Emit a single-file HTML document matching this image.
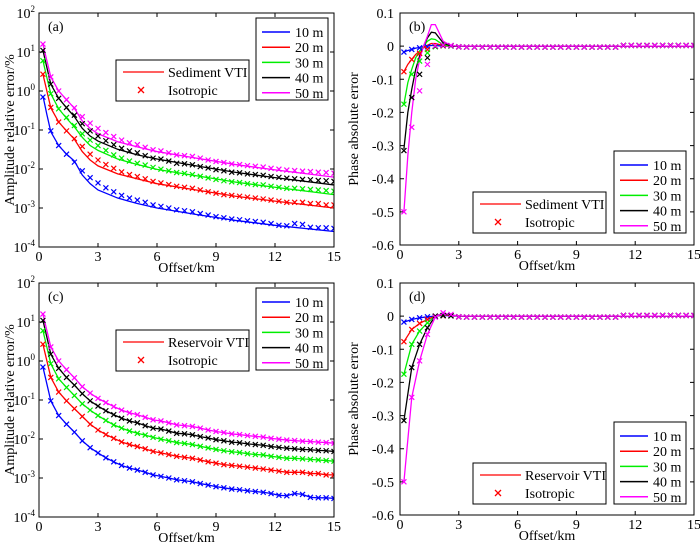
<!DOCTYPE html>
<html><head><meta charset="utf-8"><style>
html,body{margin:0;padding:0;background:#fff;}
svg{display:block;font-family:"Liberation Serif",serif;}
</style></head><body>
<svg id="fig" width="700" height="545" viewBox="0 0 700 545" xmlns="http://www.w3.org/2000/svg"></svg>
<script>
const NS="http://www.w3.org/2000/svg";
const seriesNames=["10 m","20 m","30 m","40 m","50 m"];
const colors=["#0000ff","#ff0000","#00ee00","#000000","#ff00ff"];
const xTicks=[0,3,6,9,12,15];
const logTickExps=[2,1,0,-1,-2,-3,-4];
const phaseTicks=[0.1,0,-0.1,-0.2,-0.3,-0.4,-0.5,-0.6];
const phaseTickLabels=["0.1","0","-0.1","-0.2","-0.3","-0.4","-0.5","-0.6"];
// marker offsets (km)
const markerX=[0.2,0.6,1.0,1.4,1.8,2.2,2.6,3.0,3.4,3.8,4.2,4.6,5.0,5.4,5.8,6.2,6.6,7.0,7.4,7.8,8.2,8.6,9.0,9.4,9.8,10.2,10.6,11.0,11.4,11.8,12.2,12.6,13.0,13.4,13.8,14.2,14.6,15.0];
// isotropic amplitude errors (%)
const amp10=[0.7,0.095,0.04,0.024,0.015,0.009,0.006,0.0044,0.0033,0.0026,0.0021,0.0018,0.0016,0.0014,0.0012,0.0011,0.001,0.0009,0.00085,0.0008,0.00072,0.00066,0.0006,0.00056,0.00052,0.0005,0.00047,0.00045,0.00043,0.0004,0.00036,0.00035,0.0004,0.00038,0.00032,0.00031,0.00031,0.0003];
const amp20=[2.7,0.38,0.16,0.095,0.06,0.038,0.024,0.017,0.013,0.0104,0.0084,0.0072,0.0064,0.0056,0.0048,0.0044,0.004,0.0036,0.0034,0.0032,0.0029,0.0026,0.0024,0.0022,0.0021,0.002,0.0019,0.0018,0.0017,0.0016,0.0015,0.0014,0.0014,0.0014,0.0013,0.0013,0.0012,0.0012];
const amp30=[6,0.85,0.35,0.21,0.13,0.08,0.055,0.04,0.03,0.023,0.019,0.016,0.014,0.0126,0.011,0.0099,0.009,0.0081,0.0077,0.0072,0.0065,0.0059,0.0054,0.005,0.0047,0.0045,0.0042,0.004,0.0039,0.0036,0.0034,0.0032,0.0032,0.0031,0.003,0.0029,0.0028,0.0027];
const amp40=[11,1.5,0.65,0.38,0.24,0.145,0.095,0.07,0.053,0.042,0.034,0.029,0.026,0.022,0.019,0.018,0.016,0.014,0.0136,0.0128,0.0115,0.0106,0.0096,0.009,0.0083,0.008,0.0075,0.0072,0.0069,0.0064,0.0061,0.0058,0.0056,0.0054,0.0053,0.0051,0.005,0.0048];
const amp50=[16,2.3,1.0,0.6,0.37,0.22,0.15,0.11,0.086,0.068,0.055,0.047,0.042,0.036,0.031,0.029,0.026,0.023,0.022,0.021,0.019,0.017,0.0156,0.0146,0.0135,0.013,0.0122,0.0117,0.0112,0.0104,0.0099,0.0094,0.0091,0.0088,0.0086,0.0083,0.0081,0.0078];
// sediment VTI amplitude lines
const vtiX=[0.2,0.4,0.6,1,1.4,1.8,2.2,2.6,3,4,5,6,8,10,12,15];
const sed10=[0.75,0.25,0.09,0.04,0.024,0.016,0.007,0.0042,0.0029,0.0018,0.0013,0.001,0.00068,0.00048,0.00036,0.00025];
const sed20=[2.7,1.0,0.37,0.16,0.095,0.058,0.028,0.017,0.012,0.0075,0.0056,0.0042,0.0029,0.002,0.0015,0.001];
const sed30=[6,2.2,0.85,0.35,0.2,0.12,0.065,0.04,0.03,0.018,0.013,0.0098,0.0067,0.0046,0.0034,0.0022];
const sed40=[11,4,1.5,0.65,0.37,0.22,0.11,0.07,0.052,0.032,0.023,0.018,0.012,0.0082,0.006,0.0039];
const sed50=[16,6,2.3,1.0,0.6,0.36,0.17,0.11,0.08,0.05,0.037,0.028,0.019,0.013,0.0095,0.0062];
// isotropic phase errors: first 7 offsets, then shared tail
const ph10Head=[-0.018,-0.01,-0.005,-0.002,0,0.001,0.001];
const ph20Head=[-0.077,-0.04,-0.022,-0.01,0,0.001,0.001];
const ph30Head=[-0.175,-0.085,-0.045,-0.02,-0.002,0.002,0.001];
const ph40Head=[-0.315,-0.155,-0.085,-0.035,0.0,0.002,0.001];
const ph50Head=[-0.5,-0.245,-0.135,-0.055,0.001,0.003,0.002];
const ph50HeadD=[-0.5,-0.245,-0.135,-0.055,-0.003,0.01,0.005];
const phTail=[-0.002,-0.003,-0.003,-0.003,-0.003,-0.003,-0.003,-0.003,-0.003,-0.003,-0.003,-0.003,-0.003,-0.003,-0.003,-0.003,-0.003,-0.003,-0.003,-0.003,-0.003,0.002,0.002,0.002,0.002,0.002,0.002,0.002,0.002,0.002,0.002];
// sediment VTI phase lines
const phLineX=[0.2,0.4,0.6,0.8,1,1.2,1.4,1.6,1.8,2,2.2,2.6,3,15];
const sph10=[-0.018,-0.013,-0.01,-0.006,-0.004,-0.001,0,0.002,0.002,0.001,0,0,0,0];
const sph20=[-0.077,-0.055,-0.04,-0.025,-0.015,-0.005,0.003,0.008,0.008,0.005,0.002,0,0,0];
const sph30=[-0.175,-0.11,-0.07,-0.035,-0.015,0,0.015,0.022,0.02,0.012,0.005,0,0,0];
const sph40=[-0.31,-0.2,-0.13,-0.07,-0.03,0,0.025,0.042,0.04,0.025,0.01,0,0,0];
const sph50=[-0.5,-0.33,-0.2,-0.1,-0.04,0,0.03,0.065,0.065,0.04,0.015,0.002,0,0];
// reservoir VTI phase lines
const rphX=[0.2,0.6,1,1.4,1.8,2.2,2.6,3,15];
const rph10=[-0.018,-0.01,-0.005,-0.002,0,0.002,0.001,0,0];
const rph20=[-0.077,-0.04,-0.022,-0.01,0,0.004,0.002,0,0];
const rph30=[-0.175,-0.085,-0.045,-0.02,0,0.006,0.003,0,0];
const rph40=[-0.315,-0.155,-0.085,-0.035,0,0.008,0.003,0,0];
const rph50=[-0.5,-0.245,-0.135,-0.055,-0.003,0.01,0.004,0,0];

const svg=document.getElementById('fig');
function mk(tag,attrs,parent){const e=document.createElementNS(NS,tag);for(const k in attrs)e.setAttribute(k,attrs[k]);(parent||svg).appendChild(e);return e;}
function txt(s,attrs,parent){const e=mk('text',attrs,parent);e.textContent=s;return e;}

function panel(cfg){
  const g=mk('g',{});
  
  
  const L=cfg.x0,R=cfg.x1,T=cfg.y0,B=cfg.y1;
  const sx=v=>L+(v-0)/15*(R-L);
  let sy;
  if(cfg.log){sy=v=>T+(2-Math.log10(v))/6*(B-T);}
  else{sy=v=>T+(0.1-v)/0.7*(B-T);}
  xTicks.forEach(t=>{
    const x=sx(t);
    const tk=mk('path',{d:`M${x},${B}v-4M${x},${T}v4`,stroke:'#000','stroke-width':1},g);
    
    
    const lb=txt(String(t),{x:x,y:B+14,'font-size':14,'text-anchor':'middle'},g);
    
    
  });
  if(cfg.log){
    logTickExps.forEach(e=>{
      const y=sy(Math.pow(10,e));
      const tk=mk('path',{d:`M${L},${y}h4M${R},${y}h-4`,stroke:'#000','stroke-width':1},g);
      
      
      const lb=txt('',{x:L-4,y:y+5,'font-size':14,'text-anchor':'end'},g);
      
      
      lb.textContent='10';
      const sp=mk('tspan',{dy:-6,'font-size':9},lb);sp.textContent=String(e);
    });
  } else {
    phaseTicks.forEach((t,i)=>{
      const y=sy(t);
      const tk=mk('path',{d:`M${L},${y}h4M${R},${y}h-4`,stroke:'#000','stroke-width':1},g);
      
      
      const lb=txt(phaseTickLabels[i],{x:L-6,y:y+5,'font-size':14,'text-anchor':'end'},g);
      
      
    });
  }
  const clipId='c'+cfg.name;
  const cp=mk('clipPath',{id:clipId},g);mk('rect',{x:L,y:T,width:R-L,height:B-T},cp);
  const dg=mk('g',{'clip-path':`url(#${clipId})`},g);
  cfg.lines.forEach((ys,i)=>{
    const p=mk('polyline',{points:ys.map((v,j)=>sx(cfg.lineX[j])+','+sy(v)).join(' '),fill:'none',stroke:colors[i],'stroke-width':1.3},dg);
    
    
  });
  cfg.marks.forEach((ys,i)=>{
    const mg=mk('g',{stroke:colors[i],'stroke-width':1.2},dg);
    
    
    ys.forEach((v,j)=>{
      const x=sx(markerX[j]),y=sy(v);
      mk('path',{d:`M${x-2.5},${y-2.5}l5,5M${x-2.5},${y+2.5}l5,-5`},mg);
    });
  });
  const fr=mk('rect',{x:L,y:T,width:R-L,height:B-T,fill:'none',stroke:'#000','stroke-width':1},g);
  
  
  const pl=txt(cfg.label,{x:L+9,y:T+18,'font-size':14},g);
  
  
  const xl=txt('Offset/km',{x:(L+R)/2,y:B+25,'font-size':14,'text-anchor':'middle'},g);
  
  
  const yx=cfg.log?14:L-42;
  const yl=txt(cfg.log?'Amplitude relative error/%':'Phase absolute error',{x:yx,y:(T+B)/2,'font-size':14,'text-anchor':'middle',transform:`rotate(-90 ${yx} ${(T+B)/2})`},g);
  
  
  const lx=cfg.leg1[0],ly=cfg.leg1[1];
  const lg=mk('g',{},g);
  
  
  mk('rect',{x:lx,y:ly,width:72,height:82,fill:'#fff',stroke:'#000','stroke-width':1},lg);
  seriesNames.forEach((n,i)=>{
    const yy=ly+14+i*15.2;
    const en=mk('g',{},lg);
    
    
    mk('line',{x1:lx+6,x2:lx+34,y1:yy,y2:yy,stroke:colors[i],'stroke-width':1.5},en);
    txt(n,{x:lx+39,y:yy+5,'font-size':14},en);
  });
  const mx=cfg.leg2[0],my=cfg.leg2[1];
  const lg2=mk('g',{},g);
  
  
  mk('rect',{x:mx,y:my,width:133,height:41,fill:'#fff',stroke:'#000','stroke-width':1},lg2);
  mk('line',{x1:mx+7,x2:mx+48,y1:my+12,y2:my+12,stroke:'#ff0000','stroke-width':1.3},lg2);
  txt(cfg.model,{x:mx+52,y:my+17,'font-size':14},lg2);
  const cx=mx+25,cy=my+30;
  mk('path',{d:`M${cx-3},${cy-3}l6,6M${cx-3},${cy+3}l6,-6`,stroke:'#ff0000','stroke-width':1.3},lg2);
  txt('Isotropic',{x:mx+52,y:my+35,'font-size':14},lg2);
}
const ampMarks=[amp10,amp20,amp30,amp40,amp50];
panel({name:'panel-a',label:'(a)',x0:39,x1:334,y0:13,y1:247,log:true,lineX:vtiX,lines:[sed10,sed20,sed30,sed40,sed50],marks:ampMarks,leg1:[256,18],leg2:[116,60],model:'Sediment VTI'});
panel({name:'panel-c',label:'(c)',x0:39,x1:334,y0:283,y1:517,log:true,lineX:markerX,lines:ampMarks,marks:ampMarks,leg1:[256,288],leg2:[116,330],model:'Reservoir VTI'});
panel({name:'panel-b',label:'(b)',x0:400,x1:694,y0:13,y1:245,log:false,lineX:phLineX,lines:[sph10,sph20,sph30,sph40,sph50],marks:[ph10Head.concat(phTail),ph20Head.concat(phTail),ph30Head.concat(phTail),ph40Head.concat(phTail),ph50Head.concat(phTail)],leg1:[614,151],leg2:[473,192],model:'Sediment VTI'});
panel({name:'panel-d',label:'(d)',x0:400,x1:694,y0:283,y1:515,log:false,lineX:rphX,lines:[rph10,rph20,rph30,rph40,rph50],marks:[ph10Head.concat(phTail),ph20Head.concat(phTail),ph30Head.concat(phTail),ph40Head.concat(phTail),ph50HeadD.concat(phTail)],leg1:[614,422],leg2:[473,463],model:'Reservoir VTI'});
</script>
</body></html>
